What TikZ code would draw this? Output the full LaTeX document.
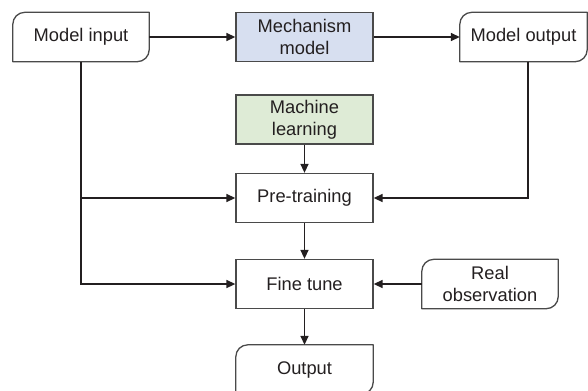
\documentclass[tikz,border=0pt]{standalone}
\usepackage{fontspec}
\setmainfont{Liberation Sans}
\usetikzlibrary{arrows.meta,calc}
\definecolor{boxline}{HTML}{4A4A4A}
\definecolor{connline}{HTML}{231F20}
\definecolor{mechfill}{HTML}{D7DFF0}
\definecolor{mlfill}{HTML}{DEEBD6}
\newcommand{\cutcornerbox}[1]{%
  \draw[boxline, line width=1.3bp, line join=round]
    ([xshift=12bp]#1.north west) -- (#1.north east) -- ([yshift=12bp]#1.south east)
    to[out=-90,in=0] ([xshift=-12bp]#1.south east) -- (#1.south west)
    -- ([yshift=-12bp]#1.north west) to[out=90,in=180] cycle;}
\begin{document}
\begin{tikzpicture}[x=1bp,y=-1bp,
  every node/.style={font=\fontsize{18.3bp}{22bp}\selectfont, align=center, inner sep=0pt, text=connline},
  plainbox/.style={draw=boxline, line width=1.3bp, minimum width=137bp, minimum height=49bp},
  openbox/.style={minimum height=49bp},
  conn/.style={draw=connline, line width=1.5bp, -{Triangle[length=9bp,width=8bp]}}]
\useasboundingbox (0,0) rectangle (588,390);
\clip (0,0) rectangle (588,390);
\node[openbox, minimum width=136bp] (in) at (81,37) {Model input};
\node[plainbox, fill=mechfill] (mech) at (304.5,37) {Mechanism\\model};
\node[openbox, minimum width=127bp] (out) at (523.5,37) {Model output};
\node[plainbox, fill=mlfill] (ml) at (304.5,119.5) {Machine\\learning};
\node[plainbox] (pre) at (304.5,198) {Pre-training};
\node[plainbox] (fine) at (304.5,284) {Fine tune};
\node[openbox, minimum width=136bp] (real) at (490,284) {Real\\observation};
\node[openbox, minimum width=137bp] (output) at (304.5,369.5) {Output};
\cutcornerbox{in}
\cutcornerbox{out}
\cutcornerbox{real}
\cutcornerbox{output}
\coordinate (outdown) at (528,61.5);
\draw[conn] (in.east) -- (mech.west);
\draw[conn] (mech.east) -- (out.west);
\draw[conn] (in.south) |- (fine.west);
\draw[conn] (in.south |- pre.west) -- (pre.west);
\draw[conn] (outdown) |- (pre.east);
\draw[conn] (ml.south) -- (pre.north);
\draw[conn] (pre.south) -- (fine.north);
\draw[conn] (real.west) -- (fine.east);
\draw[conn] (fine.south) -- (output.north);
\end{tikzpicture}
\end{document}
